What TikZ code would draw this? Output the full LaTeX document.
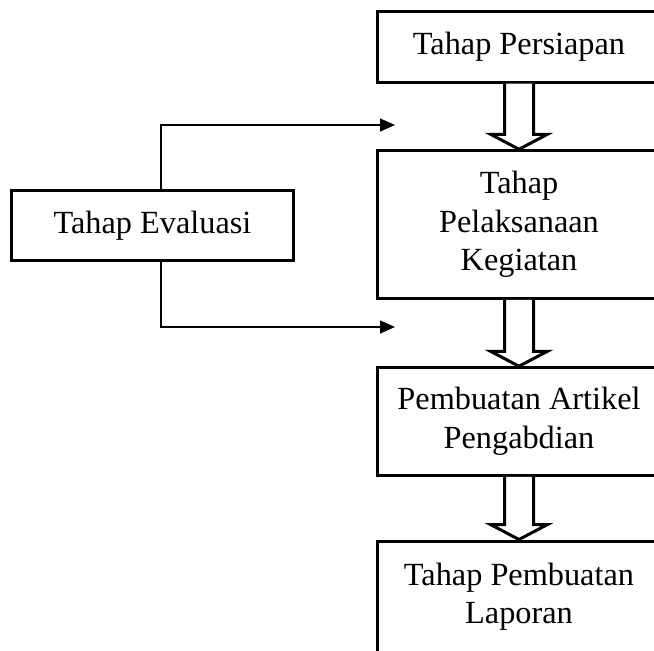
\documentclass[tikz,border=0pt]{standalone}
\usepackage{fontspec}
\setmainfont{Liberation Serif}
\usetikzlibrary{calc, arrows.meta, positioning}

% hollow block arrow between two stacked boxes
\newcommand{\blockarrow}[2]{%
	\draw[blockline] let \p1=(#1.south), \p2=(#2.north) in
		({\x1-14.5pt},\y1) -- ({\x1-14.5pt},{\y2+15pt}) -- ({\x1-28.5pt},{\y2+15pt})
		-- (\x1,\y2) -- ({\x1+28.5pt},{\y2+15pt}) -- ({\x1+14.5pt},{\y2+15pt})
		-- ({\x1+14.5pt},\y1);%
}

\begin{document}
\begin{tikzpicture}[x=1pt, y=-1pt,
		stepbox/.style={shape=rectangle, draw=black, line width=3pt, align=center,
			minimum width=284, inner sep=0pt,
			font=\fontsize{32.3}{38.5}\selectfont},
		blockline/.style={draw=black, line width=3pt, line join=miter, fill=white},
		feedback/.style={draw=black, line width=1.3pt, -{Triangle[length=15pt, width=13pt]}}
	]
			\useasboundingbox (0,0) rectangle (654,651);
			\clip (0,0) rectangle (654,651);
			
			\node[stepbox, minimum height=71] (persiapan) at (519, 46.5) {Tahap Persiapan};
			\node[stepbox, minimum height=147.5] (pelaksanaan) at (519, 224.5) {Tahap\\Pelaksanaan\\Kegiatan};
			\node[stepbox, minimum height=107.5] (artikel) at (519, 421.5) {Pembuatan Artikel\\Pengabdian};
			\node[stepbox, minimum height=111] (laporan) at (519, 596.5) {Tahap Pembuatan\\Laporan};
			
			\node[stepbox, minimum width=282, minimum height=70.5] (evaluasi) at (152.5, 225.5) {Tahap Evaluasi};
			
			\blockarrow{persiapan}{pelaksanaan}
			\blockarrow{pelaksanaan}{artikel}
			\blockarrow{artikel}{laporan}
			
			\coordinate (evalin) at (395, 125);
			\coordinate (evalout) at (395, 327);
			
			\draw[feedback] ([xshift=8.5]evaluasi.north) |- (evalin);
			\draw[feedback] ([xshift=8.5]evaluasi.south) |- (evalout);
			
\end{tikzpicture}
\end{document}
